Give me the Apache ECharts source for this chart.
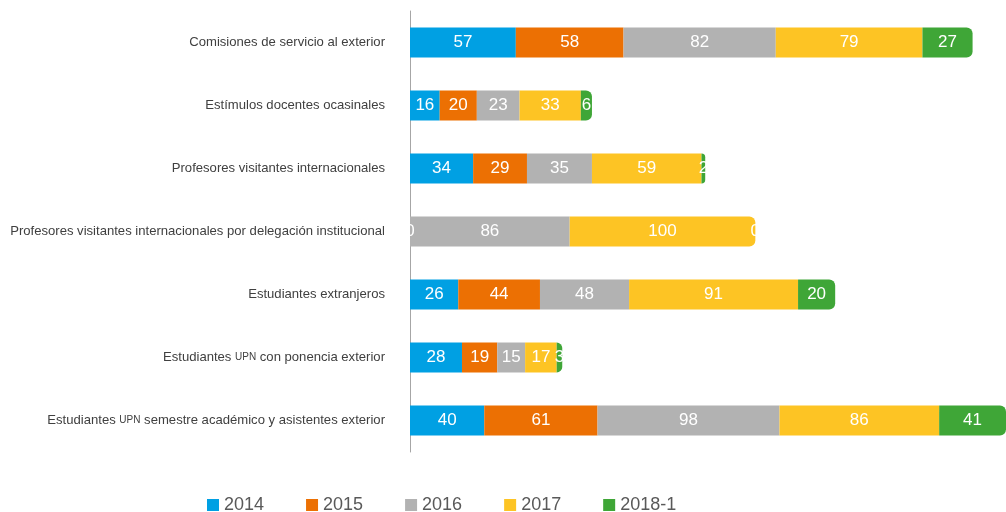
<!DOCTYPE html>
<html><head><meta charset="utf-8">
<script src="https://cdn.jsdelivr.net/npm/echarts@6/dist/echarts.min.js"></script>
<style>html,body{margin:0;padding:0;background:#fff}#c{width:1006px;height:512px}</style>
</head><body><div id="c"></div>
<script>
const categories = [
  "Comisiones de servicio al exterior",
  "Estímulos docentes ocasinales",
  "Profesores visitantes internacionales",
  "Profesores visitantes internacionales por delegación institucional",
  "Estudiantes extranjeros",
  "Estudiantes {sc|UPN} con ponencia exterior",
  "Estudiantes {sc|UPN} semestre académico y asistentes exterior"
];
const seriesNames = ["2014", "2015", "2016", "2017", "2018-1"];
const v2014 = [57, 16, 34, 0, 26, 28, 40];
const v2015 = [58, 20, 29, null, 44, 19, 61];
const v2016 = [82, 23, 35, 86, 48, 15, 98];
const v2017 = [79, 33, 59, 100, 91, 17, 86];
const v2018 = [27, 6, 2, 0, 20, 3, 41];
const allValues = [v2014, v2015, v2016, v2017, v2018];
const colors = ["#00A0E3", "#EC7003", "#B2B2B2", "#FDC424", "#3FA637"];

// last non-zero segment gets rounded right end
const lastIdx = categories.map((_, ci) => {
  let last = 0;
  allValues.forEach((arr, si) => { if (arr[ci] > 0) last = si; });
  return last;
});

const font = "'Liberation Sans',Arial,sans-serif";
const series = allValues.map((arr, si) => ({
  name: seriesNames[si],
  type: 'bar',
  stack: 'total',
  barWidth: 30,
  itemStyle: { color: colors[si] },
  label: { show: true, position: 'inside', color: '#fff', fontSize: 17, fontFamily: font,
    formatter: p => (p.value === null || p.value === undefined || p.value === '-') ? '' : String(p.value) },
  data: arr.map((v, ci) => ({
    value: v === null ? '-' : v,
    itemStyle: lastIdx[ci] === si ? { borderRadius: [0, 6, 6, 0] } : undefined
  }))
}));

const chart = echarts.init(document.getElementById('c'), null, { renderer: 'canvas' });
chart.setOption({
  animation: false,
  color: colors,
  grid: { left: 410, right: 0, top: 11, height: 441, containLabel: false, outerBoundsMode: 'none' },
  xAxis: { type: 'value', min: 0, max: 321, show: false },
  yAxis: {
    type: 'category', inverse: true, data: categories,
    axisLine: { show: true, lineStyle: { color: '#A6A6A6', width: 1 } },
    axisTick: { show: false },
    axisLabel: { color: '#404040', fontSize: 13.1, margin: 25, fontFamily: font,
      rich: { sc: { fontSize: 10, color: '#404040', fontFamily: font } } }
  },
  legend: {
    left: 202, top: 491, itemWidth: 12, itemHeight: 12, itemGap: 42, icon: 'rect',
    textStyle: { color: '#595959', fontSize: 18, fontFamily: font }
  },
  series: series
});
</script></body></html>
